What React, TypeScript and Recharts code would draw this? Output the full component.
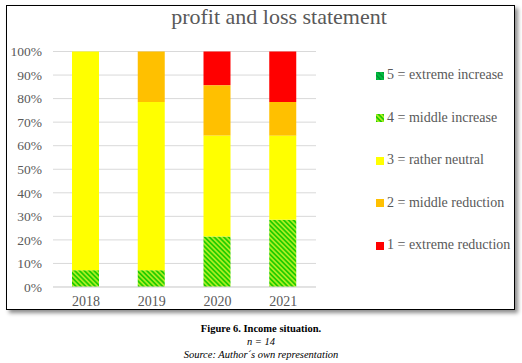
import React from 'react';
import { BarChart, Bar, XAxis, YAxis, CartesianGrid } from 'recharts';

const years = ['2018', '2019', '2020', '2021'];
const extremeIncrease = [0, 0, 0, 0];
const middleIncrease = [1, 1, 3, 4];
const ratherNeutral = [13, 10, 6, 5];
const middleReduction = [0, 3, 3, 2];
const extremeReduction = [0, 0, 2, 3];
const yTicks = [0, 0.1, 0.2, 0.3, 0.4, 0.5, 0.6, 0.7, 0.8, 0.9, 1];

const series = [
  { key: 'e5', name: '5 = extreme increase', fill: 'url(#hatch5)' },
  { key: 'e4', name: '4 = middle increase', fill: 'url(#hatch4)' },
  { key: 'e3', name: '3 = rather neutral', fill: '#ffff00' },
  { key: 'e2', name: '2 = middle reduction', fill: '#ffc000' },
  { key: 'e1', name: '1 = extreme reduction', fill: '#ff0000' },
];

const data = years.map((y, i) => ({
  year: y,
  e5: extremeIncrease[i],
  e4: middleIncrease[i],
  e3: ratherNeutral[i],
  e2: middleReduction[i],
  e1: extremeReduction[i],
}));

const font = '"Liberation Serif", "Times New Roman", serif';

const Patterns = () => (
  <defs>
    <pattern id="hatch4" patternUnits="userSpaceOnUse" width="3.4" height="3.4" patternTransform="rotate(-45)">
      <rect width="3.4" height="3.4" fill="#aaee22" />
      <rect width="1.7" height="3.4" fill="#22cc00" />
    </pattern>
    <pattern id="hatch5" patternUnits="userSpaceOnUse" width="3.4" height="3.4" patternTransform="rotate(-45)">
      <rect width="3.4" height="3.4" fill="#00c040" />
      <rect width="1.2" height="3.4" fill="#008a30" />
    </pattern>
  </defs>
);

const LegendBlock = () => (
  <div style={{ position: 'absolute', left: 376, top: 54, fontFamily: font, fontSize: 14, color: '#595959' }}>
    {series.map((s) => (
      <div key={s.key} style={{ height: 42.5, display: 'flex', alignItems: 'center', whiteSpace: 'nowrap' }}>
        <svg width={9} height={9} style={{ marginRight: 2 }}>
          <Patterns />
          <rect width={8} height={8} y={1} fill={s.fill} />
        </svg>
        <span>{s.name}</span>
      </div>
    ))}
  </div>
);

export default function App() {
  return (
    <div style={{ position: 'fixed', left: 0, top: 0, width: 522, height: 363, background: '#fff', fontFamily: font }}>
      <div
        style={{
          position: 'absolute',
          left: 6,
          top: 5,
          width: 507,
          height: 303,
          border: '1.5px solid #000',
          boxShadow: '3px 3px 4px rgba(0,0,0,0.45)',
          background: '#fff',
        }}
      />
      <div
        style={{
          position: 'absolute',
          left: 0,
          width: 558,
          top: 4,
          textAlign: 'center',
          fontSize: 22,
          color: '#595959',
        }}
      >
        profit and loss statement
      </div>
      <div style={{ position: 'absolute', left: 0, top: 0 }}>
        <BarChart
          width={522}
          height={320}
          data={data}
          stackOffset="expand"
          margin={{ top: 51.5, right: 206, bottom: 8, left: 0 }}
        >
          <Patterns />
          <CartesianGrid vertical={false} stroke="#d9d9d9" />
          <XAxis
            dataKey="year"
            interval={0}
            tickLine={false}
            axisLine={{ stroke: '#d9d9d9' }}
            tick={{ fill: '#595959', fontSize: 14, fontFamily: font }}
            tickMargin={3}
            height={25}
          />
          <YAxis
            type="number"
            domain={[0, 1]}
            ticks={yTicks}
            interval={0}
            tickFormatter={(v: number) => `${Math.round(v * 100)}%`}
            tickLine={false}
            axisLine={false}
            tick={{ fill: '#595959', fontSize: 13.5, fontFamily: font }}
            tickMargin={5}
            width={53}
          />
          {series.map((s) => (
            <Bar key={s.key} dataKey={s.key} name={s.name} stackId="a" fill={s.fill} barSize={27} isAnimationActive={false} />
          ))}
        </BarChart>
      </div>
      <LegendBlock />
      <div style={{ position: 'absolute', left: 0, width: 522, top: 322, textAlign: 'center', fontSize: 10.5, color: '#000', lineHeight: '13px' }}>
        <div style={{ fontWeight: 'bold' }}>Figure 6. Income situation.</div>
        <div style={{ fontStyle: 'italic' }}>n = 14</div>
        <div style={{ fontStyle: 'italic' }}>Source: Author´s own representation</div>
      </div>
    </div>
  );
}
